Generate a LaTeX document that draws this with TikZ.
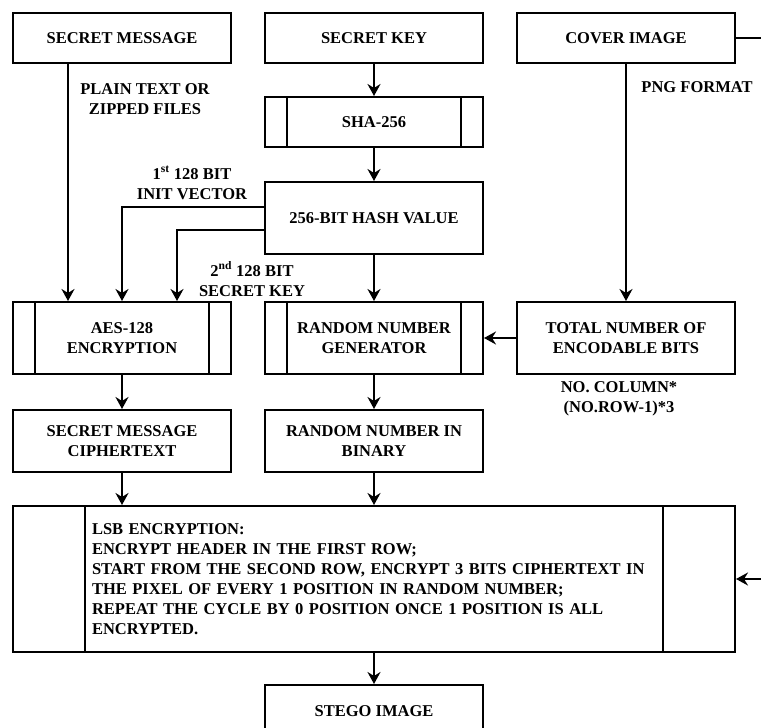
\documentclass[tikz,border=0pt]{standalone}
\usepackage{fontspec}
\setmainfont{Liberation Serif}
\usetikzlibrary{arrows.meta}
\begin{document}
\begin{tikzpicture}
\tikzstyle{every node}+=[font=\fontsize{16.5}{20}\selectfont\bfseries, align=center]
\tikzstyle{flow}=[-{Stealth[length=12pt,width=13pt,inset=4pt]}, line width=2pt]
\tikzstyle{every edge}+=[flow]
\tikzstyle{box}=[draw, line width=2pt, minimum width=218pt, minimum height=50pt, inner sep=2pt]
\tikzset{proc/.style={box, path picture={
  \draw[line width=2pt]
    ([xshift=#1]path picture bounding box.north west) -- ([xshift=#1]path picture bounding box.south west)
    ([xshift=-#1]path picture bounding box.north east) -- ([xshift=-#1]path picture bounding box.south east);}},
  proc/.default=22pt}

\fill[white] (0,0) rectangle (761pt,-728pt);
\useasboundingbox (0,0) rectangle (761pt,-728pt);

\node[box] (msg) at (122pt,-38pt) {SECRET MESSAGE};
\node[box] (key)   [node distance=252pt, right of=msg] {SECRET KEY};
\node[box] (cover) [node distance=252pt, right of=key] {COVER IMAGE};
\node[proc] (sha)  [node distance=84pt, below of=key] {SHA-256};
\node[box, minimum height=72pt] (hash) [node distance=96pt, below of=sha] {256-BIT HASH VALUE};
\node[proc, minimum height=72pt] (rng) [node distance=120pt, below of=hash] {RANDOM NUMBER\\GENERATOR};
\node[proc, minimum height=72pt] (aes) [node distance=252pt, left of=rng] {AES-128\\ENCRYPTION};
\node[box, minimum height=72pt] (total) [node distance=252pt, right of=rng] {TOTAL NUMBER OF\\ENCODABLE BITS};
\node[box, minimum height=62pt] (bin) [node distance=103pt, below of=rng] {RANDOM NUMBER IN\\BINARY};
\node[box, minimum height=62pt] (ciph) [node distance=252pt, left of=bin] {SECRET MESSAGE\\CIPHERTEXT};
\node[proc=72pt, minimum width=722pt, minimum height=146pt, text width=564pt, inner xsep=79pt, align=left] (lsb)
  [node distance=138pt, below of=bin]
  {LSB ENCRYPTION:\\ENCRYPT HEADER IN THE FIRST ROW;\\START FROM THE SECOND ROW, ENCRYPT 3 BITS CIPHERTEXT IN\\THE PIXEL OF EVERY 1 POSITION IN RANDOM NUMBER;\\REPEAT THE CYCLE BY 0 POSITION ONCE 1 POSITION IS ALL\\ENCRYPTED.};
\node[box, minimum height=52pt] (stego) [node distance=132pt, below of=lsb] {STEGO IMAGE};

% labels
\node (plain) at ([xshift=23pt,yshift=-35pt]msg.south) {PLAIN TEXT OR\\ZIPPED FILES};
\node (iv)    at ([xshift=-72pt,yshift=35pt]hash.west) {1\textsuperscript{st} 128 BIT\\INIT VECTOR};
\node (sk)    at ([xshift=-122pt,yshift=-24pt]hash.south) {2\textsuperscript{nd} 128 BIT\\SECRET KEY};
\node (png)   at ([xshift=71pt,yshift=-23pt]cover.south) {PNG FORMAT};
\node (bits)  at ([xshift=-7pt,yshift=-24pt]total.south) {NO. COLUMN*\\(NO.ROW-1)*3};

\path (key)   edge (sha)
      (sha)   edge (hash)
      (hash)  edge (rng)
      (cover) edge (total)
      (total) edge (rng)
      (aes)   edge (ciph)
      (rng)   edge (bin)
      (bin)   edge (lsb)
      (lsb)   edge (stego);
\draw[flow] ([xshift=-54pt]msg.south) -- ([xshift=-54pt]aes.north);
\draw[flow] ([yshift=11pt]hash.west) -| (aes.north);
\draw[flow] ([yshift=-12pt]hash.west) -| ([xshift=55pt]aes.north);
\draw[flow] (ciph.south) -- (ciph.south |- lsb.north);
\draw[flow] (cover.east) -- ++(40pt,0) |- (lsb.east);
\end{tikzpicture}
\end{document}
